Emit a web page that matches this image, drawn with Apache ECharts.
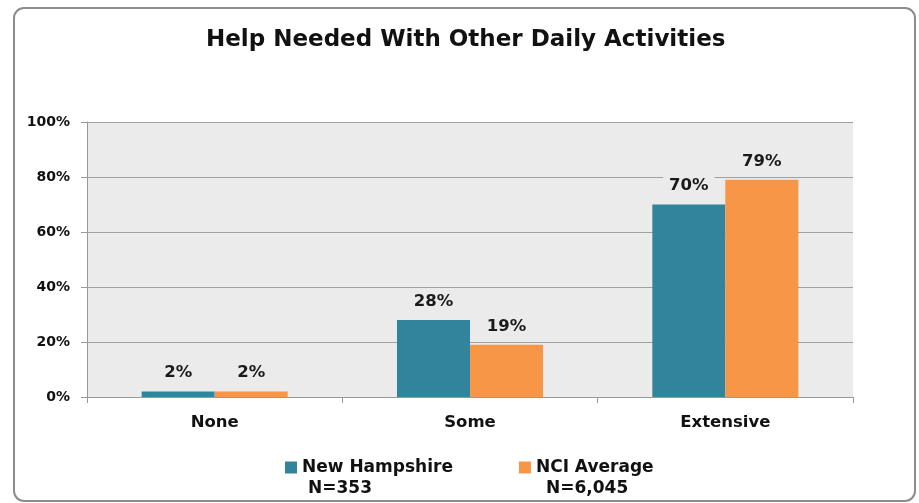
<!DOCTYPE html>
<html lang="en">
<head>
    <meta charset="UTF-8">
    <title>Help Needed With Other Daily Activities</title>
    <style>
        html, body { margin: 0; padding: 0; background: #fff; }
        #chart { width: 919px; height: 503px; }
    </style>
</head>
<body>
    <div id="chart"></div>
    <script src="https://cdn.jsdelivr.net/npm/echarts@6/dist/echarts.min.js"></script>
    <script>
        var categories = ['None', 'Some', 'Extensive'];
        var seriesNames = ['New Hampshire', 'NCI Average'];
        var sampleSizes = ['N=353', 'N=6,045'];
        var nhValues = [2, 28, 70];
        var nciValues = [2, 19, 79];
        var yTicks = [0, 20, 40, 60, 80, 100];

        var font = 'DejaVu Sans';
        var plotBg = '#ebebeb';

        function barSeries(name, data, color) {
            return {
                name: name,
                type: 'bar',
                data: data,
                barWidth: 73,
                barGap: '0%',
                itemStyle: { color: color },
                label: {
                    show: true,
                    position: 'top',
                    distance: 9,
                    formatter: '{c}%',
                    fontFamily: font,
                    fontWeight: 'bold',
                    fontSize: 16.5,
                    color: '#1a1a1a',
                    backgroundColor: plotBg,
                    padding: [1, 6]
                }
            };
        }

        var chart = echarts.init(document.getElementById('chart'));

        var option = {
            backgroundColor: '#fff',
            animation: false,
            title: {
                text: 'Help Needed With Other Daily Activities',
                left: 206,
                top: 29,
                padding: 0,
                textStyle: {
                    fontFamily: font,
                    fontWeight: 'bold',
                    fontSize: 23,
                    color: '#111'
                }
            },
            legend: {
                data: seriesNames,
                left: 285,
                top: 459,
                padding: 0,
                itemWidth: 12,
                itemHeight: 12,
                itemGap: 66,
                icon: 'rect',
                textStyle: {
                    fontFamily: font,
                    fontWeight: 'bold',
                    fontSize: 17,
                    color: '#111'
                }
            },
            grid: {
                left: 87,
                right: 66,
                top: 122,
                bottom: 106,
                show: true,
                backgroundColor: plotBg,
                borderWidth: 0
            },
            xAxis: {
                type: 'category',
                data: categories,
                axisLine: { lineStyle: { color: '#999', width: 1 } },
                axisTick: { show: true, length: 6, lineStyle: { color: '#999' } },
                axisLabel: {
                    margin: 17,
                    fontFamily: font,
                    fontWeight: 'bold',
                    fontSize: 16.5,
                    color: '#111'
                }
            },
            yAxis: {
                type: 'value',
                min: yTicks[0],
                max: yTicks[yTicks.length - 1],
                interval: 20,
                axisLine: { show: true, lineStyle: { color: '#999', width: 1 } },
                axisTick: { show: true, length: 6, lineStyle: { color: '#999' } },
                splitLine: { lineStyle: { color: '#a0a0a0', width: 1 } },
                axisLabel: {
                    margin: 17,
                    formatter: '{value}%',
                    fontFamily: font,
                    fontWeight: 'bold',
                    fontSize: 14,
                    color: '#111'
                }
            },
            graphic: [
                {
                    type: 'rect',
                    silent: true,
                    z: -1,
                    shape: { x: 14, y: 8, width: 901, height: 493, r: 10 },
                    style: { fill: 'none', stroke: '#8c8c8c', lineWidth: 2 }
                },
                {
                    type: 'text',
                    left: 308,
                    top: 480,
                    style: {
                        text: sampleSizes[0],
                        font: 'bold 17px "DejaVu Sans"',
                        fill: '#111'
                    }
                },
                {
                    type: 'text',
                    left: 546,
                    top: 480,
                    style: {
                        text: sampleSizes[1],
                        font: 'bold 17px "DejaVu Sans"',
                        fill: '#111'
                    }
                }
            ],
            series: [
                barSeries(seriesNames[0], nhValues, '#31849b'),
                barSeries(seriesNames[1], nciValues, '#f79646')
            ]
        };

        chart.setOption(option);
    </script>
</body>
</html>
